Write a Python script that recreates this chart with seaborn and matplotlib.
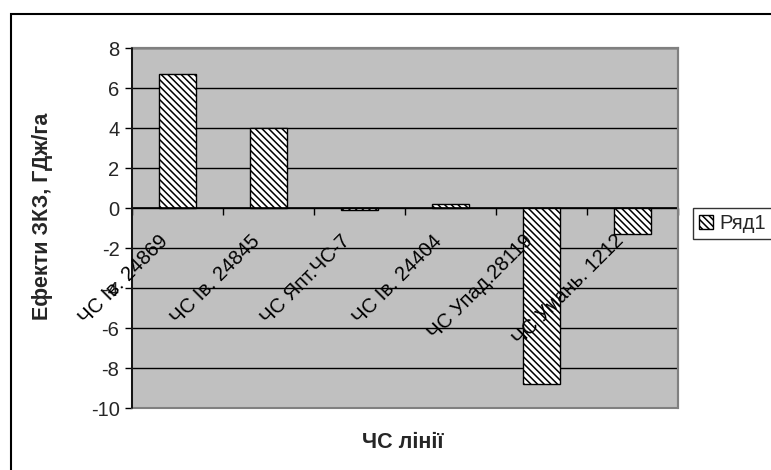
import matplotlib
matplotlib.use("Agg")
import matplotlib.pyplot as plt
import matplotlib.patches as mpatches
import seaborn as sns
import pandas as pd

categories = ["ЧС Ів. 24869", "ЧС Ів. 24845", "ЧС Япт.ЧС-7", "ЧС Ів. 24404", "ЧС Упад.28119", "ЧС Умань. 1212"]
values = [6.7, 4.0, -0.1, 0.2, -8.8, -1.3]
series_name = "Ряд1"
y_ticks = [-10, -8, -6, -4, -2, 0, 2, 4, 6, 8]

sns.set_theme(style="white")
plt.rcParams['font.family'] = ['Liberation Sans', 'DejaVu Sans']
plt.rcParams['hatch.linewidth'] = 1.1
plt.rcParams['hatch.color'] = 'black'

W, H = 771, 470
fig = plt.figure(figsize=(W / 100, H / 100), dpi=100)
ax = fig.add_axes([132 / W, 1 - 408 / H, (678 - 132) / W, (408 - 48) / H])
ax.set_facecolor('#C0C0C0')

HATCH = '\\\\\\\\\\'
df = pd.DataFrame({"cat": categories, "val": values})
sns.barplot(data=df, x="cat", y="val", color="white", width=0.41, ax=ax,
            edgecolor="black", linewidth=1.0, saturation=1)
for p in ax.patches:
    p.set_hatch(HATCH)
    p.set_facecolor('white')
    p.set_edgecolor('black')
    p.set_zorder(3)

ax.set_ylim(-10, 8)
ax.set_xlim(-0.5, len(categories) - 0.5)
ax.set_yticks(y_ticks)
ax.set_yticklabels([str(t) for t in y_ticks], fontsize=14.5)
ax.yaxis.grid(True, color='black', linewidth=1.0)
ax.set_axisbelow(True)

# x axis at zero
ax.spines['bottom'].set_position(('data', 0))
ax.spines['bottom'].set_color('black')
ax.spines['bottom'].set_linewidth(1.2)
ax.spines['bottom'].set_zorder(4)
ax.spines['left'].set_color('black')
ax.spines['left'].set_linewidth(1.2)
for s in ['top', 'right']:
    ax.spines[s].set_color('#808080')
    ax.spines[s].set_linewidth(1.5)
ax.add_patch(mpatches.Rectangle((0, 0), 1, 1, transform=ax.transAxes, fill=False,
                                edgecolor='#808080', linewidth=1.5, zorder=5, clip_on=False))
ax.plot([0, 0], [0, 1], transform=ax.transAxes, color='black', lw=1.2, zorder=6, clip_on=False)

ax.set_xticks([i - 0.5 for i in range(len(categories) + 1)])
ax.set_xticklabels([])
ax.tick_params(axis='x', direction='out', length=5, width=1, color='black', bottom=True)
ax.tick_params(axis='y', direction='out', length=5, width=1, color='black', left=True, pad=4)

for i, c in enumerate(categories):
    ax.annotate(c, xy=(i, 0), xytext=(-12, -30), textcoords='offset pixels',
                ha='right', va='center', rotation=45, rotation_mode='anchor',
                fontsize=14.5, color='black', zorder=7)

ax.set_xlabel("")
ax.set_ylabel("")
fig.text(403 / W, 1 - 443 / H, "ЧС лінії", ha='center', va='center', fontsize=15.5, fontweight='bold')
fig.text(43 / W, 1 - 216 / H, "Ефекти ЗКЗ, ГДж/га", ha='center', va='center', rotation=90,
         fontsize=15.5, fontweight='bold')

handle = mpatches.Patch(facecolor='white', edgecolor='black', hatch=HATCH, label=series_name)
leg = fig.legend(handles=[handle], loc='upper left', bbox_to_anchor=(693 / W, 1 - 208 / H),
                 frameon=True, fancybox=False, fontsize=14.5, handlelength=0.7, handleheight=0.7,
                 handletextpad=0.3, borderpad=0.3, borderaxespad=0)
leg.get_frame().set_edgecolor('black')
leg.get_frame().set_linewidth(1.0)

fig.patches.append(mpatches.Rectangle((11 / W, -0.05), 1.1, 1 - 14 / H + 0.05, transform=fig.transFigure,
                                      fill=False, edgecolor='black', linewidth=1.5, figure=fig))

fig.savefig("out.png", dpi=100)
